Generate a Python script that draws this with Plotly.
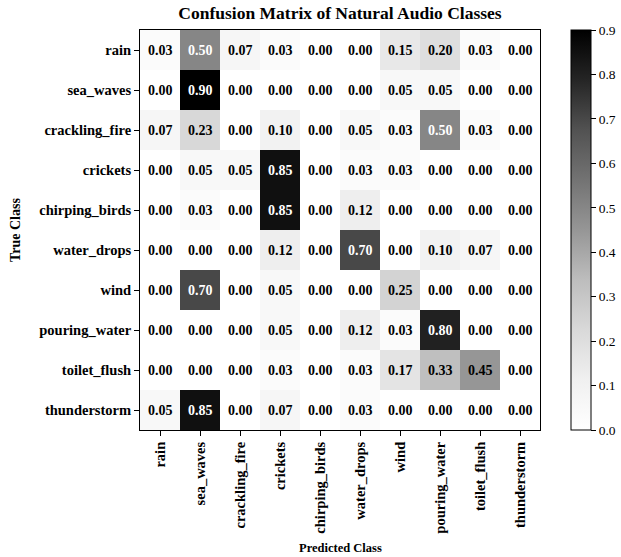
import plotly.graph_objects as go

classes = ["rain", "sea_waves", "crackling_fire", "crickets", "chirping_birds",
           "water_drops", "wind", "pouring_water", "toilet_flush", "thunderstorm"]

row_rain = [0.03, 0.50, 0.07, 0.03, 0.00, 0.00, 0.15, 0.20, 0.03, 0.00]
row_sea_waves = [0.00, 0.90, 0.00, 0.00, 0.00, 0.00, 0.05, 0.05, 0.00, 0.00]
row_crackling_fire = [0.07, 0.23, 0.00, 0.10, 0.00, 0.05, 0.03, 0.50, 0.03, 0.00]
row_crickets = [0.00, 0.05, 0.05, 0.85, 0.00, 0.03, 0.03, 0.00, 0.00, 0.00]
row_chirping_birds = [0.00, 0.03, 0.00, 0.85, 0.00, 0.12, 0.00, 0.00, 0.00, 0.00]
row_water_drops = [0.00, 0.00, 0.00, 0.12, 0.00, 0.70, 0.00, 0.10, 0.07, 0.00]
row_wind = [0.00, 0.70, 0.00, 0.05, 0.00, 0.00, 0.25, 0.00, 0.00, 0.00]
row_pouring_water = [0.00, 0.00, 0.00, 0.05, 0.00, 0.12, 0.03, 0.80, 0.00, 0.00]
row_toilet_flush = [0.00, 0.00, 0.00, 0.03, 0.00, 0.03, 0.17, 0.33, 0.45, 0.00]
row_thunderstorm = [0.05, 0.85, 0.00, 0.07, 0.00, 0.03, 0.00, 0.00, 0.00, 0.00]

z = [row_rain, row_sea_waves, row_crackling_fire, row_crickets, row_chirping_birds,
     row_water_drops, row_wind, row_pouring_water, row_toilet_flush, row_thunderstorm]

colorbar_ticks = [0.0, 0.1, 0.2, 0.3, 0.4, 0.5, 0.6, 0.7, 0.8, 0.9]

greys = ["#ffffff", "#f0f0f0", "#d9d9d9", "#bdbdbd", "#969696",
         "#737373", "#525252", "#252525", "#000000"]
colorscale = [[i / (len(greys) - 1), c] for i, c in enumerate(greys)]

zmax = 0.9
FONT = "Liberation Serif"

fig = go.Figure(go.Heatmap(
    z=z, x=classes, y=classes,
    colorscale=colorscale, zmin=0, zmax=zmax,
    hoverongaps=False,
    colorbar=dict(
        x=1.0775, xanchor="left", xpad=0, y=0.5, yanchor="middle", ypad=0,
        len=1.0, lenmode="fraction",
        thickness=20, outlinecolor="black", outlinewidth=1,
        ticks="outside", ticklen=5, tickwidth=1, tickcolor="black",
        tickvals=colorbar_ticks,
        tickformat=".1f", tickprefix="<b>", ticksuffix="</b>",
        tickfont=dict(family=FONT, size=13.5, color="black"),
    ),
))

annotations = []
thresh = zmax / 2
for i, rname in enumerate(classes):
    for j, cname in enumerate(classes):
        v = z[i][j]
        annotations.append(dict(
            x=cname, y=rname, xref="x", yref="y", text="<b>%.2f</b>" % v,
            showarrow=False,
            font=dict(family=FONT, size=14, color="white" if v > thresh else "black"),
        ))

annotations.append(dict(text="<b>Predicted Class</b>", x=0.5, y=-0.295, xref="paper", yref="paper",
                        xanchor="center", yanchor="middle", showarrow=False,
                        font=dict(family=FONT, size=12.5, color="black")))
annotations.append(dict(text="<b>True Class</b>", x=-0.3125, y=0.5, xref="paper", yref="paper",
                        xanchor="center", yanchor="middle", showarrow=False, textangle=-90,
                        font=dict(family=FONT, size=14, color="black")))

fig.update_layout(
    width=621, height=557,
    margin=dict(l=140, r=81, t=30, b=127, autoexpand=False),
    paper_bgcolor="white", plot_bgcolor="white",
    font=dict(family=FONT, color="black"),
    title=dict(text="<b>Confusion Matrix of Natural Audio Classes</b>",
               x=0.5, xref="paper", xanchor="center", y=0.976, yref="container", yanchor="middle",
               font=dict(family=FONT, size=17.5, color="black")),
    annotations=annotations,
    xaxis=dict(
        tickangle=-90, ticks="outside", ticklen=5, tickcolor="black",
        showgrid=False, zeroline=False, showline=True, linecolor="black", linewidth=1,
        mirror=True, tickfont=dict(family=FONT, size=14.5, color="black"),
        tickprefix="<b>", ticksuffix="</b>",
    ),
    yaxis=dict(
        autorange="reversed", ticks="outside", ticklen=5, tickcolor="black",
        showgrid=False, zeroline=False, showline=True, linecolor="black", linewidth=1,
        mirror=True, tickfont=dict(family=FONT, size=14.5, color="black"),
        tickprefix="<b>", ticksuffix="</b>",
    ),
)

fig.write_html("out.html",
               config={"displayModeBar": False},
               post_script="document.body.style.margin='0';document.body.style.overflow='hidden';")
